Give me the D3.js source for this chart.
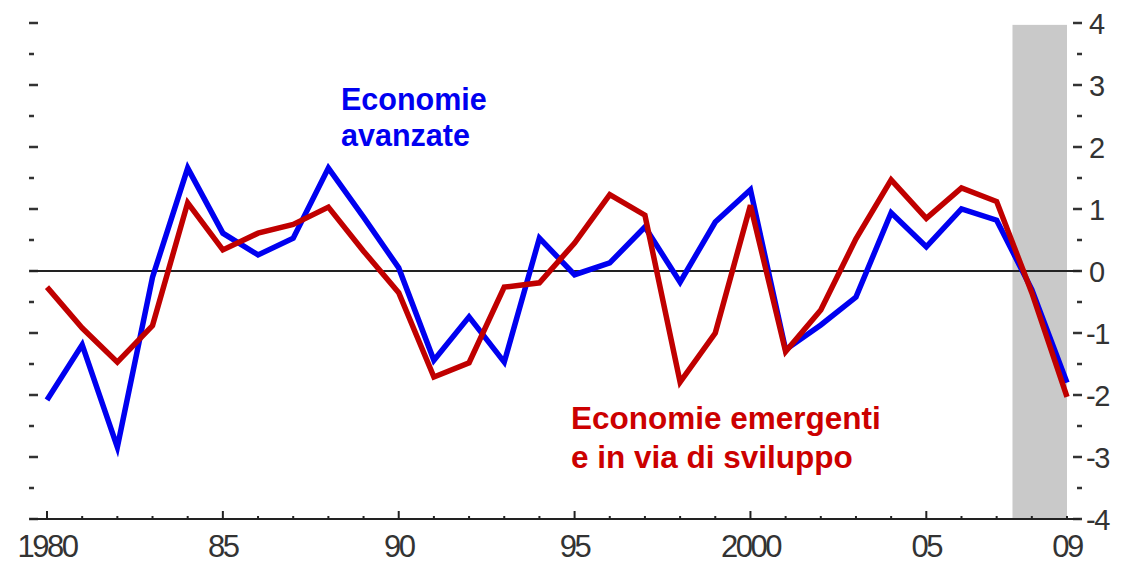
<!DOCTYPE html>
<html>
<head>
<meta charset="utf-8">
<script src="https://cdn.jsdelivr.net/npm/d3@7"></script>
<style>
  body { margin: 0; background: #fff; }
  svg { display: block; }
  text { font-family: "Liberation Sans", Arial, sans-serif; }
</style>
</head>
<body>
<script>
// anni e serie (variazione %)
var years = d3.range(1980, 2010);
var avanzate = [-2.08, -1.19, -2.84, -0.1, 1.66, 0.61, 0.26, 0.53, 1.66, 0.87,
                0.05, -1.44, -0.74, -1.47, 0.53, -0.06, 0.13, 0.71, -0.18, 0.79,
                1.31, -1.27, -0.87, -0.42, 0.94, 0.39, 1.0, 0.82, -0.3, -1.8];
var emergenti = [-0.26, -0.92, -1.47, -0.88, 1.1, 0.34, 0.61, 0.75, 1.03, 0.32,
                 -0.35, -1.71, -1.48, -0.26, -0.19, 0.45, 1.23, 0.9, -1.79, -1.0,
                 1.06, -1.3, -0.63, 0.52, 1.47, 0.85, 1.34, 1.12, -0.35, -2.03];
var xTickLabels = {1980: "1980", 1985: "85", 1990: "90", 1995: "95", 2000: "2000", 2005: "05", 2009: "09"};
var yTicks = [4, 3, 2, 1, 0, -1, -2, -3, -4];
var shadeRange = [2007.45, 2009];

var W = 1124, H = 563;
var svg = d3.select("body").append("svg").attr("width", W).attr("height", H);

var x = d3.scaleLinear().domain([1980, 2009]).range([47, 1067]);
var y = d3.scaleLinear().domain([-4, 4]).range([519, 23]);

// zona grigia (2008-09)
svg.append("rect")
   .attr("x", x(shadeRange[0]))
   .attr("y", y(3.97))
   .attr("width", x(shadeRange[1]) - x(shadeRange[0]))
   .attr("height", y(-4) - y(3.97))
   .attr("fill", "#c9c9c9");

// tacche verticali a sinistra e a destra
var halfTicks = d3.range(-4, 4.01, 0.5);
svg.selectAll(".lt").data(halfTicks).enter().append("line")
   .attr("x1", 29).attr("x2", d => Number.isInteger(d) ? 38 : 34)
   .attr("y1", d => y(d)).attr("y2", d => y(d))
   .attr("stroke", "#333").attr("stroke-width", 2.5);

svg.selectAll(".rt").data(halfTicks).enter().append("line")
   .attr("x1", d => Number.isInteger(d) ? 1073 : 1077).attr("x2", 1082)
   .attr("y1", d => y(d)).attr("y2", d => y(d))
   .attr("stroke", "#333").attr("stroke-width", 2.5);

svg.selectAll(".rl").data(yTicks).enter().append("text")
   .attr("x", d => d < 0 ? 1086 : 1089)
   .attr("y", d => y(d) + 11)
   .attr("font-size", 29)
   .attr("fill", "#333")
   .attr("letter-spacing", -1.5)
   .text(d => d);

// linea dello zero
svg.append("line")
   .attr("x1", 30).attr("x2", 1080)
   .attr("y1", y(0)).attr("y2", y(0))
   .attr("stroke", "#222").attr("stroke-width", 2);

// asse x
svg.append("line")
   .attr("x1", 30).attr("x2", 1080)
   .attr("y1", y(-4)).attr("y2", y(-4))
   .attr("stroke", "#222").attr("stroke-width", 2);

svg.selectAll(".xt").data(years).enter().append("line")
   .attr("x1", d => x(d)).attr("x2", d => x(d))
   .attr("y1", y(-4)).attr("y2", d => d % 5 == 0 ? y(-4) - 8 : y(-4) - 3)
   .attr("stroke", "#222").attr("stroke-width", 2);

svg.selectAll(".xl").data(Object.keys(xTickLabels)).enter().append("text")
   .attr("x", d => x(+d))
   .attr("y", 557)
   .attr("text-anchor", "middle")
   .attr("font-size", 31)
   .attr("letter-spacing", -2.5)
   .attr("fill", "#333")
   .text(d => xTickLabels[d]);

// serie
var line = d3.line().x((d, i) => x(years[i])).y(d => y(d));

svg.append("path").datum(avanzate)
   .attr("d", line)
   .attr("fill", "none")
   .attr("stroke", "#0000f0")
   .attr("stroke-width", 5.5)
   .attr("stroke-linejoin", "miter");

svg.append("path").datum(emergenti)
   .attr("d", line)
   .attr("fill", "none")
   .attr("stroke", "#c00000")
   .attr("stroke-width", 5.5)
   .attr("stroke-linejoin", "miter");

// etichette
var lab1 = svg.append("text").attr("font-size", 30.5).attr("font-weight", "bold").attr("fill", "#0000f0");
lab1.append("tspan").attr("x", 341).attr("y", 110).text("Economie");
lab1.append("tspan").attr("x", 341).attr("y", 146).text("avanzate");

var lab2 = svg.append("text").attr("font-size", 31.5).attr("font-weight", "bold").attr("fill", "#cc0000");
lab2.append("tspan").attr("x", 571).attr("y", 429).text("Economie emergenti");
lab2.append("tspan").attr("x", 571).attr("y", 468).text("e in via di sviluppo");
</script>
</body>
</html>
